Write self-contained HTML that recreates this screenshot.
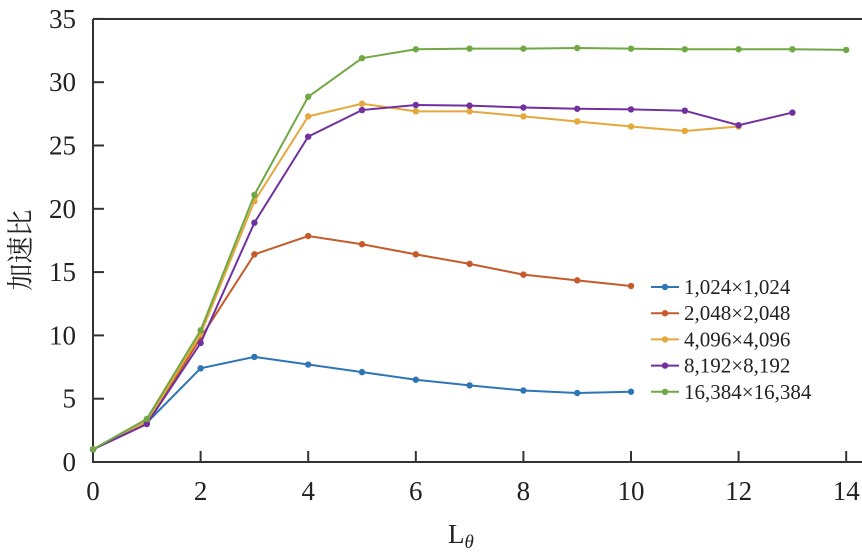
<!DOCTYPE html>
<html><head><meta charset="utf-8"><style>
body{margin:0;background:#fff}
svg{display:block}
text{font-family:"Liberation Serif","Noto Serif CJK SC",serif;fill:#222}
</style></head><body>
<svg id="s" width="862" height="558" xmlns="http://www.w3.org/2000/svg"></svg>
<script>
const s=document.getElementById('s');
const X=v=>93+v*53.8, Y=v=>462-v*12.66;
let h='';
h+=`<line x1="93" y1="19" x2="862" y2="19" stroke="#333" stroke-width="2"/>`;
h+=`<line x1="93" y1="19" x2="93" y2="463" stroke="#333" stroke-width="2"/>`;
h+=`<line x1="92" y1="462" x2="862" y2="462" stroke="#333" stroke-width="2"/>`;
for(let v=0;v<=35;v+=5){let y=Y(v);if(v>0)h+=`<line x1="93" y1="${y}" x2="104" y2="${y}" stroke="#333" stroke-width="2"/>`;h+=`<text x="76" y="${y+9}" font-size="27" text-anchor="end">${v}</text>`;}
for(let v=0;v<=14;v+=2){let x=X(v);if(v>0)h+=`<line x1="${x}" y1="462" x2="${x}" y2="451" stroke="#333" stroke-width="2"/>`;h+=`<text x="${x}" y="500" font-size="27" text-anchor="middle">${v}</text>`;}
h+=`<text transform="translate(30,250) rotate(-90)" font-size="27" text-anchor="middle">加速比</text>`;
h+=`<text x="448" y="543" font-size="27">L<tspan font-size="19" dy="5" font-style="italic">θ</tspan></text>`;
const S=[
['#2e75b6',[1,3.1,7.4,8.3,7.7,7.1,6.5,6.05,5.65,5.45,5.55],'1,024×1,024'],
['#c55a2b',[1,3.0,9.8,16.4,17.85,17.2,16.4,15.65,14.8,14.35,13.9],'2,048×2,048'],
['#e6a83c',[1,3.2,10.1,20.6,27.3,28.3,27.7,27.7,27.3,26.9,26.5,26.15,26.5],'4,096×4,096'],
['#7030a0',[1,3.0,9.4,18.9,25.7,27.8,28.2,28.15,28.0,27.9,27.85,27.75,26.6,27.6],'8,192×8,192'],
['#70a845',[1,3.4,10.4,21.1,28.85,31.9,32.6,32.65,32.65,32.7,32.65,32.6,32.6,32.6,32.55],'16,384×16,384']];
S.forEach((d,i)=>{
 const p=d[1].map((v,j)=>X(j)+','+Y(v)).join(' ');
 h+=`<polyline points="${p}" fill="none" stroke="${d[0]}" stroke-width="2"/>`;
 d[1].forEach((v,j)=>h+=`<circle cx="${X(j)}" cy="${Y(v)}" r="3.2" fill="${d[0]}"/>`);
 const ly=287+i*26.2;
 h+=`<line x1="651" y1="${ly}" x2="679" y2="${ly}" stroke="${d[0]}" stroke-width="2"/><circle cx="665" cy="${ly}" r="3.2" fill="${d[0]}"/>`;
 h+=`<text x="684" y="${ly+7}" font-size="21">${d[2]}</text>`;
});
s.innerHTML=h;
</script>
</body></html>
